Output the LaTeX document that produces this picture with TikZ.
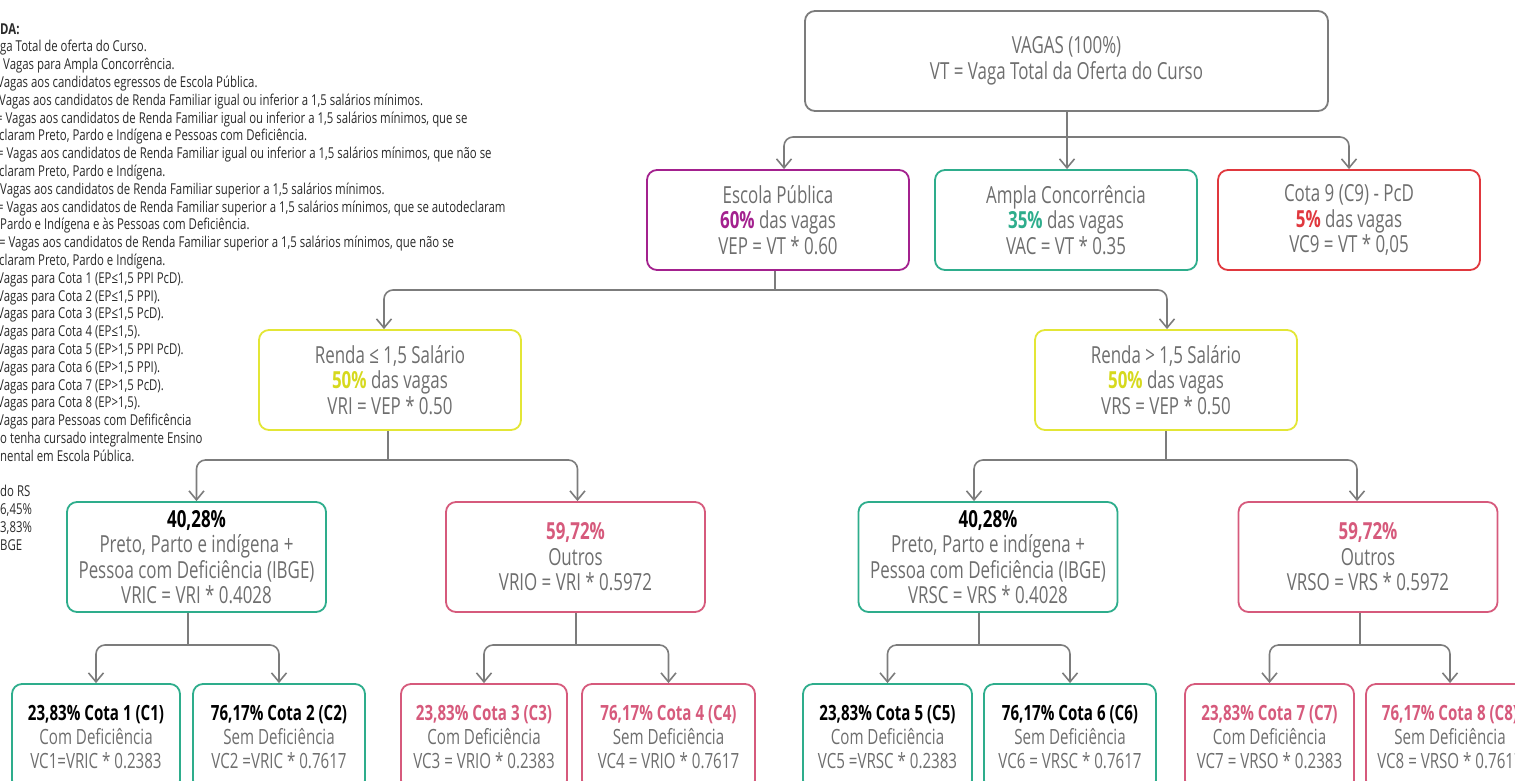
\documentclass[tikz,border=0pt]{standalone}
\usepackage{fontspec}
\setmainfont{Open Sans}[FakeStretch=0.72]
\newfontfamily\legfam{Open Sans}[FakeStretch=0.76]
\usetikzlibrary{arrows.meta}
\definecolor{txt}{HTML}{6E6E6E}
\definecolor{legtxt}{HTML}{2A2A2A}
\definecolor{cgray}{HTML}{7C7C7C}
\definecolor{cpurple}{HTML}{A3218E}
\definecolor{cteal}{HTML}{2EAD8C}
\definecolor{cred}{HTML}{E0383E}
\definecolor{cyellow}{HTML}{E3E636}
\definecolor{cyeltxt}{HTML}{D6D91E}
\definecolor{cpink}{HTML}{D65A7C}
\newcommand\legfont{\legfam\fontsize{15}{17.8}\selectfont}
\newcommand\boxfont{\fontsize{23.5}{25.5}\selectfont}
\newcommand\smallboxfont{\fontsize{21}{24}\selectfont}
\newcommand\legline[4]{\node[leg] (#1) at (#2,#3) {#4};}
\begin{document}
\begin{tikzpicture}[x=1pt,y=-1pt,
  bx/.style={draw, rounded corners=10pt, line width=1.8pt, align=center, text=txt, font=\boxfont, inner sep=0pt},
  sbx/.style={bx, font=\smallboxfont},
  conn/.style={draw=cgray, line width=1.6pt, rounded corners=9pt},
  arr/.style={conn, -{Straight Barb[length=9pt,width=15pt]}},
  leg/.style={anchor=base west, inner sep=0pt, font=\legfont, text=legtxt}]
\useasboundingbox (0,0) rectangle (1515,780);
\clip (0,0) rectangle (1515,780);

% legend
\legline{l1}{0}{34.0}{\textbf{DA:}}
\legline{l2}{0}{51.8}{ga Total de oferta do Curso.}
\legline{l3}{3}{69.6}{Vagas para Ampla Concorrência.}
\legline{l4}{-3}{87.4}{Vagas aos candidatos egressos de Escola Pública.}
\legline{l5}{-1}{105.2}{Vagas aos candidatos de Renda Familiar igual ou inferior a 1,5 salários mínimos.}
\legline{l6}{-4}{123.0}{= Vagas aos candidatos de Renda Familiar igual ou inferior a 1,5 salários mínimos, que se}
\legline{l7}{-1}{140.8}{claram Preto, Pardo e Indígena e Pessoas com Deficiência.}
\legline{l8}{-3}{158.6}{= Vagas aos candidatos de Renda Familiar igual ou inferior a 1,5 salários mínimos, que não se}
\legline{l9}{-1}{176.4}{claram Preto, Pardo e Indígena.}
\legline{l10}{0}{194.2}{Vagas aos candidatos de Renda Familiar superior a 1,5 salários mínimos.}
\legline{l11}{-3}{212.0}{= Vagas aos candidatos de Renda Familiar superior a 1,5 salários mínimos, que se autodeclaram}
\legline{l12}{0}{229.8}{Pardo e Indígena e às Pessoas com Deficiência.}
\legline{l13}{-1}{247.6}{= Vagas aos candidatos de Renda Familiar superior a 1,5 salários mínimos, que não se}
\legline{l14}{-1}{265.4}{claram Preto, Pardo e Indígena.}
\legline{l15}{-3}{283.2}{Vagas para Cota 1 (EP≤1,5 PPI PcD).}
\legline{l16}{-3}{301.0}{Vagas para Cota 2 (EP≤1,5 PPI).}
\legline{l17}{-3}{318.8}{Vagas para Cota 3 (EP≤1,5 PcD).}
\legline{l18}{-3}{336.6}{Vagas para Cota 4 (EP≤1,5).}
\legline{l19}{-3}{354.4}{Vagas para Cota 5 (EP>1,5 PPI PcD).}
\legline{l20}{-3}{372.2}{Vagas para Cota 6 (EP>1,5 PPI).}
\legline{l21}{-3}{390.0}{Vagas para Cota 7 (EP>1,5 PcD).}
\legline{l22}{-3}{407.8}{Vagas para Cota 8 (EP>1,5).}
\legline{l23}{-3}{425.6}{Vagas para Pessoas com Defificência}
\legline{l24}{0}{443.4}{o tenha cursado integralmente Ensino}
\legline{l25}{0}{461.2}{nental em Escola Pública.}
\legline{l26}{0}{496.8}{do RS}
\legline{l27}{0}{514.6}{6,45\%}
\legline{l28}{0}{532.4}{3,83\%}
\legline{l29}{0}{550.2}{BGE}

% boxes
\node[bx, draw=cgray, minimum width=523pt, minimum height=100pt] (vt) at (1066.5,61) {VAGAS (100\%)\\VT = Vaga Total da Oferta do Curso};

\node[bx, draw=cpurple, minimum width=262pt, minimum height=100pt] (ep) at (778,220) {Escola Pública\\\textcolor{cpurple}{\textbf{60\%}} das vagas\\VEP = VT * 0.60};
\node[bx, draw=cteal, minimum width=262pt, minimum height=100pt] (ac) at (1066,220) {Ampla Concorrência\\\textcolor{cteal}{\textbf{35\%}} das vagas\\VAC = VT * 0.35};
\node[bx, draw=cred, minimum width=262pt, minimum height=100pt] (c9) at (1349,220) {Cota 9 (C9) - PcD\\\textcolor{cred}{\textbf{5\%}} das vagas\\VC9 = VT * 0,05};

\node[bx, draw=cyellow, minimum width=262pt, minimum height=100pt] (rl) at (390,380) {Renda ≤ 1,5 Salário\\\textcolor{cyeltxt}{\textbf{50\%}} das vagas\\VRI = VEP * 0.50};
\node[bx, draw=cyellow, minimum width=262pt, minimum height=100pt] (rs) at (1166,380) {Renda > 1,5 Salário\\\textcolor{cyeltxt}{\textbf{50\%}} das vagas\\VRS = VEP * 0.50};

\node[bx, draw=cteal, minimum width=259pt, minimum height=110pt] (ric) at (196.5,557) {\textcolor{black}{\textbf{40,28\%}}\\Preto, Parto e indígena +\\Pessoa com Deficiência (IBGE)\\VRIC = VRI * 0.4028};
\node[bx, draw=cpink, minimum width=259pt, minimum height=110pt] (rio) at (575.5,557) {\textcolor{cpink}{\textbf{59,72\%}}\\Outros\\VRIO = VRI * 0.5972};
\node[bx, draw=cteal, minimum width=259pt, minimum height=110pt] (rsc) at (988,557) {\textcolor{black}{\textbf{40,28\%}}\\Preto, Parto e indígena +\\Pessoa com Deficiência (IBGE)\\VRSC = VRS * 0.4028};
\node[bx, draw=cpink, minimum width=259pt, minimum height=110pt] (rso) at (1368,557) {\textcolor{cpink}{\textbf{59,72\%}}\\Outros\\VRSO = VRS * 0.5972};

\node[sbx, draw=cteal, minimum width=168pt, minimum height=106pt] (c1) at (96,737) {\textcolor{black}{\textbf{23,83\% Cota 1 (C1)}}\\Com Deficiência\\VC1=VRIC * 0.2383};
\node[sbx, draw=cteal, minimum width=172pt, minimum height=106pt] (c2) at (279,737) {\textcolor{black}{\textbf{76,17\% Cota 2 (C2)}}\\Sem Deficiência\\VC2 =VRIC * 0.7617};
\node[sbx, draw=cpink, minimum width=166pt, minimum height=106pt] (c3) at (484,737) {\textcolor{cpink}{\textbf{23,83\% Cota 3 (C3)}}\\Com Deficiência\\VC3 = VRIO * 0.2383};
\node[sbx, draw=cpink, minimum width=173pt, minimum height=106pt] (c4) at (668.5,737) {\textcolor{cpink}{\textbf{76,17\% Cota 4 (C4)}}\\Sem Deficiência\\VC4 = VRIO * 0.7617};
\node[sbx, draw=cteal, minimum width=169pt, minimum height=106pt] (c5) at (887.5,737) {\textcolor{black}{\textbf{23,83\% Cota 5 (C5)}}\\Com Deficiência\\VC5 =VRSC * 0.2383};
\node[sbx, draw=cteal, minimum width=172pt, minimum height=106pt] (c6) at (1070,737) {\textcolor{black}{\textbf{76,17\% Cota 6 (C6)}}\\Sem Deficiência\\VC6 = VRSC * 0.7617};
\node[sbx, draw=cpink, minimum width=169pt, minimum height=106pt] (c7) at (1269.5,737) {\textcolor{cpink}{\textbf{23,83\% Cota 7 (C7)}}\\Com Deficiência\\VC7 = VRSO * 0.2383};
\node[sbx, draw=cpink, minimum width=168pt, minimum height=106pt] (c8) at (1450,737) {\textcolor{cpink}{\textbf{76,17\% Cota 8 (C8)}}\\Sem Deficiência\\VC8 = VRSO * 0.7617};

% connectors
\coordinate (j1) at (1067,137);
\draw[arr] (vt.south -| j1) -- (ac.north -| j1);
\draw[arr] (j1) -| ([xshift=6pt]ep.north);
\draw[arr] (j1) -| (c9.north);

\coordinate (j2) at (775,290);
\draw[conn] (ep.south -| j2) -- (j2);
\draw[arr] (j2) -| ([xshift=-6pt]rl.north);
\draw[arr] (j2) -| ([xshift=1pt]rs.north);

\coordinate (j3) at (388,460);
\draw[conn] (rl.south -| j3) -- (j3);
\draw[arr] (j3) -| (ric.north);
\draw[arr] (j3) -| ([xshift=2pt]rio.north);

\coordinate (j4) at (1166,460);
\draw[conn] (rs.south -| j4) -- (j4);
\draw[arr] (j4) -| ([xshift=-14pt]rsc.north);
\draw[arr] (j4) -| ([xshift=-11pt]rso.north);

\coordinate (j5) at (188,645);
\draw[conn] (ric.south -| j5) -- (j5);
\draw[arr] (j5) -| (c1.north);
\draw[arr] (j5) -| (c2.north);

\coordinate (j6) at (576,645);
\draw[conn] (rio.south -| j6) -- (j6);
\draw[arr] (j6) -| (c3.north);
\draw[arr] (j6) -| (c4.north);

\coordinate (j7) at (979,645);
\draw[conn] (rsc.south -| j7) -- (j7);
\draw[arr] (j7) -| (c5.north);
\draw[arr] (j7) -| (c6.north);

\coordinate (j8) at (1360,645);
\draw[conn] (rso.south -| j8) -- (j8);
\draw[arr] (j8) -| (c7.north);
\draw[arr] (j8) -| (c8.north);
\end{tikzpicture}
\end{document}
